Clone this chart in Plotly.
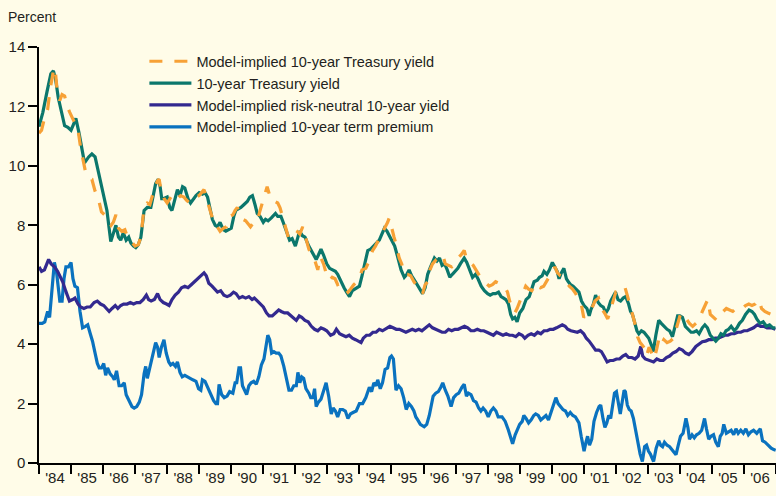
import plotly.graph_objects as go

# ---------------- data ----------------
t_treas = [1984.0,1984.12,1984.25,1984.37,1984.45,1984.52,1984.6,1984.7,1984.8,1984.9,1985.0,1985.08,1985.15,1985.25,1985.35,1985.42,1985.55,1985.65,1985.75,1985.85,1985.95,1986.05,1986.12,1986.24,1986.32,1986.4,1986.48,1986.55,1986.63,1986.72,1986.8,1986.87,1986.95,1987.02,1987.1,1987.18,1987.28,1987.38,1987.49,1987.57,1987.64,1987.72,1987.78,1987.83,1987.9,1988.0,1988.08,1988.15,1988.25,1988.32,1988.4,1988.48,1988.55,1988.65,1988.73,1988.82,1988.9,1989.0,1989.1,1989.18,1989.26,1989.35,1989.41,1989.5,1989.57,1989.65,1989.75,1989.83,1989.92,1990.0,1990.08,1990.14,1990.22,1990.3,1990.4,1990.5,1990.58,1990.66,1990.74,1990.81,1990.9,1991.0,1991.07,1991.15,1991.25,1991.38,1991.45,1991.55,1991.62,1991.7,1991.82,1991.9,1992.0,1992.08,1992.13,1992.22,1992.3,1992.42,1992.55,1992.65,1992.72,1992.8,1992.88,1992.98,1993.07,1993.15,1993.25,1993.32,1993.42,1993.52,1993.6,1993.69,1993.78,1993.9,1994.0,1994.08,1994.18,1994.26,1994.35,1994.44,1994.52,1994.62,1994.7,1994.78,1994.86,1994.93,1995.0,1995.1,1995.19,1995.3,1995.4,1995.48,1995.55,1995.63,1995.72,1995.8,1995.9,1995.97,1996.05,1996.13,1996.22,1996.34,1996.42,1996.5,1996.58,1996.66,1996.74,1996.82,1996.9,1997.0,1997.07,1997.15,1997.27,1997.35,1997.45,1997.53,1997.62,1997.7,1997.8,1997.9,1998.0,1998.08,1998.17,1998.25,1998.34,1998.42,1998.5,1998.57,1998.65,1998.72,1998.78,1998.85,1998.92,1999.0,1999.1,1999.2,1999.3,1999.39,1999.45,1999.55,1999.62,1999.7,1999.76,1999.85,1999.93,2000.02,2000.1,2000.17,2000.23,2000.3,2000.38,2000.46,2000.52,2000.59,2000.67,2000.75,2000.85,2000.93,2001.01,2001.1,2001.17,2001.22,2001.3,2001.37,2001.45,2001.53,2001.61,2001.69,2001.77,2001.84,2001.99,2002.07,2002.15,2002.23,2002.31,2002.4,2002.46,2002.52,2002.6,2002.66,2002.72,2002.8,2002.88,2002.96,2003.03,2003.1,2003.17,2003.25,2003.34,2003.42,2003.5,2003.6,2003.68,2003.77,2003.85,2003.93,2004.0,2004.08,2004.17,2004.25,2004.35,2004.43,2004.52,2004.6,2004.7,2004.78,2004.86,2004.95,2005.04,2005.12,2005.2,2005.28,2005.36,2005.44,2005.52,2005.6,2005.7,2005.78,2005.86,2005.95,2006.05,2006.16,2006.25,2006.33,2006.4,2006.5,2006.6,2006.7,2006.8,2006.9,2006.98]
v_treas = [11.32,11.8,12.5,13.1,13.2,12.9,12.3,11.8,11.35,11.3,11.2,11.4,11.6,11.1,10.5,10.1,10.3,10.4,10.3,9.8,9.35,8.9,8.5,7.45,7.7,8.0,7.6,7.5,7.75,7.5,7.6,7.4,7.3,7.25,7.35,7.6,8.5,8.6,8.6,9.0,9.4,9.55,9.3,8.9,8.9,8.95,8.6,8.5,8.9,9.2,9.0,9.3,9.25,8.9,8.75,8.9,9.0,9.1,9.05,9.1,8.95,8.5,8.2,8.0,7.95,8.1,7.85,7.8,7.85,7.9,8.3,8.5,8.55,8.6,8.7,8.8,8.95,9.0,8.7,8.4,8.3,8.1,8.2,8.15,8.25,8.4,8.3,8.3,8.1,7.85,7.5,7.55,7.3,7.6,7.8,7.65,7.6,7.3,7.05,6.85,7.0,7.2,7.0,6.7,6.55,6.5,6.45,6.35,6.1,5.9,5.75,5.6,5.8,5.9,5.95,6.3,6.8,7.15,7.2,7.3,7.4,7.5,7.7,7.9,7.8,7.65,7.55,7.3,6.95,6.5,6.25,6.35,6.5,6.3,6.15,6.0,5.85,5.7,5.9,6.35,6.6,6.9,6.8,6.9,6.65,6.7,6.5,6.25,6.35,6.45,6.55,6.7,6.9,6.75,6.5,6.25,6.35,6.2,5.95,5.8,5.7,5.65,5.7,5.7,5.75,5.6,5.55,5.5,5.35,5.0,4.85,4.9,4.75,5.05,5.2,5.5,5.6,5.95,6.1,6.15,6.25,6.3,6.45,6.35,6.5,6.75,6.6,6.45,6.2,6.4,6.55,6.2,6.1,6.0,5.95,5.85,5.75,5.45,5.3,5.2,4.95,5.15,5.35,5.65,5.4,5.3,5.25,5.05,5.2,5.45,5.75,5.5,5.45,5.55,5.6,5.35,5.1,5.0,4.7,4.45,4.35,4.45,4.4,4.3,4.2,4.0,3.75,4.3,4.8,4.7,4.6,4.5,4.45,4.25,4.6,4.95,4.95,4.9,4.6,4.5,4.4,4.4,4.45,4.35,4.55,4.65,4.55,4.3,4.2,4.1,4.2,4.35,4.3,4.45,4.5,4.6,4.45,4.55,4.7,4.8,5.0,5.15,5.1,5.0,4.85,4.7,4.75,4.6,4.65,4.55,4.55]

t_model = [1984.0,1984.08,1984.17,1984.27,1984.35,1984.45,1984.5,1984.57,1984.65,1984.72,1984.8,1984.88,1984.96,1985.05,1985.15,1985.22,1985.3,1985.38,1985.46,1985.55,1985.65,1985.75,1985.85,1985.95,1986.05,1986.15,1986.25,1986.32,1986.4,1986.48,1986.58,1986.68,1986.78,1986.88,1987.0,1987.1,1987.18,1987.28,1987.38,1987.46,1987.55,1987.62,1987.7,1987.75,1987.82,1987.9,1988.0,1988.08,1988.15,1988.25,1988.33,1988.42,1988.52,1988.6,1988.7,1988.8,1988.9,1989.0,1989.08,1989.15,1989.23,1989.3,1989.4,1989.48,1989.56,1989.65,1989.75,1989.85,1989.95,1990.05,1990.12,1990.19,1990.28,1990.36,1990.45,1990.52,1990.6,1990.7,1990.8,1990.9,1991.0,1991.07,1991.12,1991.2,1991.28,1991.36,1991.45,1991.52,1991.6,1991.7,1991.78,1991.87,1991.97,1992.05,1992.14,1992.23,1992.32,1992.42,1992.5,1992.6,1992.7,1992.78,1992.88,1992.97,1993.07,1993.15,1993.24,1993.32,1993.42,1993.52,1993.64,1993.72,1993.82,1993.92,1994.0,1994.08,1994.2,1994.3,1994.41,1994.5,1994.6,1994.7,1994.8,1994.88,1994.93,1995.0,1995.08,1995.16,1995.24,1995.32,1995.4,1995.5,1995.6,1995.7,1995.8,1995.88,1995.97,1996.05,1996.13,1996.2,1996.28,1996.4,1996.5,1996.6,1996.68,1996.78,1996.88,1996.98,1997.07,1997.17,1997.27,1997.36,1997.45,1997.55,1997.65,1997.75,1997.85,1997.95,1998.05,1998.15,1998.25,1998.35,1998.45,1998.55,1998.62,1998.7,1998.78,1998.85,1998.92,1999.0,1999.1,1999.19,1999.28,1999.38,1999.46,1999.55,1999.65,1999.75,1999.85,1999.94,2000.02,2000.1,2000.18,2000.27,2000.36,2000.45,2000.55,2000.65,2000.75,2000.85,2000.93,2001.0,2001.08,2001.15,2001.25,2001.35,2001.46,2001.55,2001.65,2001.75,2001.82,2001.92,2002.0,2002.1,2002.2,2002.29,2002.37,2002.45,2002.55,2002.62,2002.68,2002.76,2002.84,2002.9,2002.96,2003.04,2003.1,2003.2,2003.28,2003.35,2003.43,2003.5,2003.6,2003.7,2003.8,2003.9,2004.03,2004.12,2004.2,2004.3,2004.4,2004.5,2004.6,2004.7,2004.8,2004.87,2004.95,2005.05,2005.15,2005.25,2005.35,2005.45,2005.55,2005.65,2005.75,2005.85,2005.95,2006.05,2006.15,2006.25,2006.35,2006.46,2006.55,2006.65,2006.75,2006.85,2006.98]
v_model = [11.1,11.2,11.6,11.9,12.6,13.2,13.3,12.5,12.2,12.4,12.35,12.0,11.8,11.6,11.4,11.2,10.6,10.1,9.75,9.6,9.55,9.15,8.9,8.45,8.35,8.2,8.0,8.1,8.35,7.9,7.8,7.85,7.55,7.45,7.3,7.35,7.6,8.6,8.75,8.7,9.05,9.3,9.5,9.55,9.1,8.9,8.75,8.9,9.0,8.85,8.9,9.0,8.95,8.85,8.75,8.85,8.95,9.0,9.1,9.2,8.9,8.65,8.3,8.0,7.95,7.8,7.9,7.95,8.3,8.35,8.5,8.6,8.3,8.2,8.15,8.05,7.95,8.1,8.1,8.5,8.9,9.2,9.3,9.0,8.8,8.8,8.75,8.6,8.3,7.9,7.6,7.75,7.85,7.8,7.7,7.95,7.55,7.2,7.0,6.85,6.5,6.95,6.7,6.35,6.15,6.25,6.2,6.0,6.05,5.9,5.75,5.85,6.0,6.1,6.2,6.5,6.55,6.8,7.15,7.3,7.5,7.7,7.9,8.1,8.25,7.9,7.6,7.3,6.9,6.7,6.35,6.35,6.3,6.1,5.95,5.85,5.7,6.0,6.1,6.5,6.7,6.85,6.9,7.0,6.7,6.65,6.6,6.7,6.9,7.0,7.15,6.8,6.75,6.65,6.45,6.3,6.15,6.05,5.95,6.0,6.1,6.05,5.95,5.9,5.75,5.4,5.2,5.05,5.2,5.45,5.7,5.95,5.85,5.8,5.95,6.05,5.9,5.95,6.15,6.3,6.35,6.6,6.4,6.3,6.25,6.1,5.95,5.85,5.7,5.5,5.3,4.9,5.0,5.05,5.2,5.45,5.55,5.2,5.05,4.85,5.1,5.5,5.75,5.7,5.8,5.9,5.6,5.3,4.95,4.6,4.25,4.05,3.95,3.85,3.6,3.9,3.75,3.5,3.85,4.2,4.0,4.15,4.05,4.1,4.2,4.6,5.05,4.9,4.85,4.7,4.6,4.7,4.8,5.1,5.35,5.5,5.0,4.9,4.8,4.95,5.1,5.2,5.15,5.1,5.2,5.25,5.2,5.3,5.35,5.3,5.35,5.5,5.2,5.1,5.05,5.0,4.95]

t_neutral = [1984.0,1984.08,1984.17,1984.3,1984.38,1984.48,1984.58,1984.66,1984.74,1984.83,1984.95,1985.05,1985.12,1985.22,1985.3,1985.4,1985.5,1985.6,1985.72,1985.82,1985.92,1986.02,1986.1,1986.19,1986.28,1986.38,1986.46,1986.55,1986.64,1986.75,1986.85,1986.95,1987.05,1987.15,1987.25,1987.35,1987.42,1987.5,1987.6,1987.7,1987.78,1987.88,1987.98,1988.06,1988.15,1988.25,1988.35,1988.45,1988.55,1988.65,1988.75,1988.85,1988.95,1989.05,1989.15,1989.22,1989.3,1989.4,1989.5,1989.57,1989.67,1989.77,1989.87,1989.97,1990.07,1990.15,1990.25,1990.35,1990.45,1990.55,1990.65,1990.72,1990.82,1990.92,1991.0,1991.1,1991.18,1991.28,1991.38,1991.48,1991.56,1991.66,1991.76,1991.86,1991.95,1992.03,1992.12,1992.2,1992.3,1992.4,1992.5,1992.6,1992.7,1992.8,1992.9,1992.98,1993.1,1993.2,1993.28,1993.38,1993.48,1993.58,1993.68,1993.78,1993.88,1993.96,1994.05,1994.12,1994.22,1994.32,1994.42,1994.52,1994.62,1994.72,1994.85,1994.95,1995.05,1995.15,1995.25,1995.35,1995.45,1995.55,1995.65,1995.75,1995.85,1995.95,1996.08,1996.18,1996.28,1996.38,1996.48,1996.58,1996.68,1996.78,1996.88,1996.98,1997.08,1997.18,1997.28,1997.38,1997.48,1997.58,1997.68,1997.78,1997.88,1997.98,1998.08,1998.18,1998.28,1998.38,1998.48,1998.58,1998.68,1998.78,1998.88,1998.98,1999.08,1999.16,1999.26,1999.36,1999.46,1999.56,1999.66,1999.76,1999.86,1999.95,2000.05,2000.15,2000.25,2000.33,2000.42,2000.5,2000.6,2000.7,2000.8,2000.9,2001.0,2001.08,2001.17,2001.27,2001.37,2001.47,2001.55,2001.63,2001.73,2001.82,2001.92,2002.02,2002.12,2002.22,2002.31,2002.4,2002.5,2002.6,2002.7,2002.78,2002.84,2002.92,2002.98,2003.08,2003.18,2003.28,2003.38,2003.48,2003.58,2003.68,2003.78,2003.88,2003.98,2004.08,2004.18,2004.28,2004.38,2004.5,2004.6,2004.7,2004.8,2004.9,2005.0,2005.1,2005.2,2005.3,2005.4,2005.5,2005.6,2005.7,2005.8,2005.9,2006.0,2006.1,2006.2,2006.3,2006.42,2006.52,2006.62,2006.72,2006.85,2006.98]
v_neutral = [6.6,6.45,6.5,6.85,6.7,6.6,6.45,6.3,6.1,5.8,5.45,5.5,5.55,5.35,5.25,5.2,5.25,5.25,5.4,5.45,5.35,5.3,5.2,5.1,5.2,5.3,5.2,5.3,5.35,5.35,5.4,5.35,5.4,5.4,5.5,5.65,5.5,5.45,5.5,5.7,5.5,5.4,5.35,5.3,5.5,5.65,5.75,5.9,5.95,5.9,6.0,6.1,6.2,6.3,6.4,6.3,6.05,5.95,5.85,5.75,5.8,5.65,5.6,5.65,5.75,5.7,5.55,5.6,5.55,5.6,5.5,5.55,5.45,5.35,5.25,5.05,4.95,4.95,5.05,5.15,5.1,5.05,5.05,4.95,4.85,4.8,4.95,4.9,4.8,4.75,4.6,4.5,4.45,4.55,4.5,4.45,4.3,4.35,4.5,4.35,4.3,4.25,4.3,4.2,4.15,4.1,4.05,4.2,4.3,4.3,4.4,4.4,4.5,4.45,4.55,4.6,4.55,4.5,4.5,4.45,4.4,4.45,4.5,4.45,4.5,4.45,4.55,4.65,4.55,4.5,4.45,4.4,4.4,4.5,4.45,4.5,4.5,4.55,4.6,4.55,4.45,4.45,4.5,4.45,4.45,4.4,4.35,4.3,4.4,4.35,4.3,4.35,4.3,4.3,4.25,4.35,4.3,4.2,4.3,4.35,4.3,4.4,4.35,4.45,4.45,4.5,4.5,4.55,4.6,4.65,4.6,4.5,4.45,4.42,4.4,4.45,4.35,4.2,4.1,3.95,3.8,3.8,3.75,3.6,3.4,3.45,3.45,3.5,3.5,3.6,3.65,3.55,3.55,3.5,3.6,3.92,3.6,3.5,3.48,3.45,3.4,3.5,3.45,3.45,3.55,3.6,3.7,3.75,3.85,3.8,3.7,3.65,3.75,3.92,4.0,4.08,4.1,4.15,4.15,4.2,4.2,4.25,4.3,4.3,4.35,4.35,4.4,4.4,4.45,4.45,4.5,4.55,4.65,4.6,4.6,4.55,4.55,4.5]

t_premium = [1984.0,1984.1,1984.18,1984.27,1984.33,1984.4,1984.48,1984.55,1984.6,1984.65,1984.72,1984.78,1984.84,1984.92,1985.0,1985.06,1985.12,1985.2,1985.28,1985.36,1985.45,1985.52,1985.6,1985.67,1985.75,1985.82,1985.88,1985.95,1986.02,1986.08,1986.14,1986.22,1986.3,1986.35,1986.42,1986.5,1986.58,1986.66,1986.72,1986.8,1986.9,1986.97,1987.05,1987.13,1987.2,1987.28,1987.33,1987.38,1987.46,1987.55,1987.64,1987.7,1987.75,1987.82,1987.9,1987.97,1988.05,1988.11,1988.18,1988.26,1988.32,1988.4,1988.47,1988.55,1988.62,1988.7,1988.8,1988.9,1988.98,1989.05,1989.1,1989.18,1989.28,1989.36,1989.45,1989.52,1989.57,1989.62,1989.7,1989.78,1989.87,1989.95,1990.05,1990.12,1990.17,1990.24,1990.29,1990.35,1990.42,1990.48,1990.55,1990.62,1990.7,1990.78,1990.86,1990.94,1991.02,1991.09,1991.14,1991.2,1991.26,1991.33,1991.4,1991.48,1991.55,1991.64,1991.72,1991.8,1991.88,1991.95,1992.03,1992.08,1992.14,1992.2,1992.26,1992.33,1992.42,1992.48,1992.55,1992.6,1992.65,1992.72,1992.8,1992.9,1992.96,1993.04,1993.12,1993.18,1993.25,1993.32,1993.4,1993.48,1993.56,1993.64,1993.72,1993.8,1993.9,1994.0,1994.1,1994.2,1994.31,1994.38,1994.45,1994.52,1994.57,1994.65,1994.72,1994.8,1994.88,1994.95,1995.0,1995.06,1995.14,1995.22,1995.3,1995.38,1995.46,1995.54,1995.62,1995.7,1995.76,1995.82,1995.9,1996.02,1996.1,1996.18,1996.25,1996.3,1996.38,1996.46,1996.54,1996.6,1996.68,1996.76,1996.86,1996.94,1997.02,1997.1,1997.2,1997.27,1997.34,1997.4,1997.48,1997.56,1997.64,1997.72,1997.79,1997.86,1997.94,1998.02,1998.1,1998.18,1998.26,1998.33,1998.45,1998.55,1998.65,1998.72,1998.78,1998.86,1998.93,1999.0,1999.08,1999.13,1999.2,1999.28,1999.36,1999.44,1999.5,1999.58,1999.66,1999.75,1999.82,1999.9,1999.97,2000.05,2000.13,2000.2,2000.27,2000.35,2000.43,2000.5,2000.58,2000.66,2000.74,2000.85,2000.92,2001.01,2001.07,2001.12,2001.18,2001.25,2001.32,2001.4,2001.48,2001.53,2001.6,2001.66,2001.72,2001.78,2001.84,2001.9,2001.96,2002.02,2002.08,2002.14,2002.2,2002.26,2002.3,2002.36,2002.42,2002.48,2002.55,2002.62,2002.7,2002.76,2002.83,2002.9,2002.96,2003.02,2003.08,2003.14,2003.18,2003.26,2003.34,2003.4,2003.46,2003.52,2003.6,2003.68,2003.76,2003.82,2003.88,2003.95,2004.02,2004.1,2004.19,2004.25,2004.3,2004.38,2004.45,2004.52,2004.6,2004.68,2004.77,2004.83,2004.9,2004.97,2005.05,2005.12,2005.2,2005.26,2005.32,2005.37,2005.45,2005.52,2005.6,2005.68,2005.75,2005.82,2005.9,2005.98,2006.06,2006.14,2006.22,2006.3,2006.4,2006.51,2006.58,2006.66,2006.75,2006.85,2006.93,2006.99]
v_premium = [4.7,4.7,4.75,5.1,4.9,5.8,6.75,6.4,5.8,5.45,5.45,6.2,6.6,6.6,6.75,6.2,5.95,5.9,5.1,4.55,4.6,4.65,4.35,4.1,3.7,3.35,3.2,3.2,3.35,2.95,3.2,3.0,2.9,2.8,3.1,2.6,2.6,2.7,2.3,2.1,1.9,1.85,1.9,2.05,2.3,3.0,3.25,2.85,3.2,3.7,4.05,3.9,3.55,3.9,4.15,3.7,3.4,3.3,3.35,3.25,3.4,3.05,2.9,2.95,2.9,2.85,2.8,2.75,2.5,2.45,2.8,2.75,2.5,2.35,2.1,2.0,2.0,2.65,2.3,2.2,2.25,2.4,2.35,2.7,2.7,3.2,3.2,2.6,2.4,2.3,2.6,2.7,2.75,2.65,2.9,3.3,3.5,4.0,4.3,4.15,3.7,3.75,3.7,3.7,3.6,3.25,2.9,2.45,2.45,2.6,2.6,3.05,2.7,2.9,2.85,2.5,2.35,2.2,2.2,2.5,1.9,2.05,2.15,2.5,2.7,2.25,1.65,1.85,1.75,1.55,1.8,1.8,1.75,1.5,1.65,1.7,1.75,2.0,2.0,2.2,2.55,2.4,2.7,2.6,2.8,2.5,2.7,3.15,3.2,3.55,3.6,3.5,2.45,2.6,2.5,2.2,1.8,2.0,1.9,1.75,1.55,1.45,1.3,1.22,1.3,1.6,2.0,2.25,2.35,2.4,2.55,2.7,2.45,2.25,1.9,2.2,2.3,2.35,2.55,2.65,2.25,2.35,2.3,2.1,2.05,1.85,1.75,1.85,1.75,1.55,1.75,1.85,1.75,1.55,1.55,1.4,1.1,0.85,0.65,0.95,1.1,1.3,1.4,1.6,1.5,1.35,1.45,1.6,1.65,1.6,1.45,1.55,1.6,1.45,1.7,1.95,2.2,2.0,1.9,1.8,1.75,1.6,1.7,1.6,1.55,1.35,0.9,0.4,0.7,0.9,0.6,0.8,1.4,1.7,1.9,1.95,1.5,1.2,1.35,1.6,1.5,2.0,2.35,2.4,2.0,1.65,2.05,2.45,2.4,1.95,1.8,1.75,1.5,1.1,0.6,0.3,0.05,0.55,0.6,0.4,0.3,0.15,0.05,0.5,0.75,0.6,0.55,0.7,0.6,0.55,0.45,0.35,0.28,0.6,0.9,1.0,1.5,1.2,0.8,0.95,0.85,0.95,1.0,1.1,1.5,1.15,0.8,0.9,0.95,0.7,0.55,0.9,1.0,1.3,1.0,1.05,1.1,0.95,1.15,1.0,1.1,1.0,1.15,0.95,1.05,1.1,1.0,1.15,0.75,0.7,0.6,0.5,0.45,0.43]

years = list(range(1984, 2007))
year_labels = ["'" + str(y)[2:] for y in years]
y_ticks = [0, 2, 4, 6, 8, 10, 12, 14]

names = ["Model-implied 10-year term premium",
         "Model-implied risk-neutral 10-year yield",
         "10-year Treasury yield",
         "Model-implied 10-year Treasury yield"]

# ---------------- styling ----------------
BG = "#FFFCE8"
C_ORANGE = "#F7A136"
C_TEAL = "#0B776C"
C_PURPLE = "#33298F"
C_BLUE = "#0A72BF"
TXT = "#231F20"
FONT = "Liberation Sans Narrow, Arial Narrow, Liberation Sans, Arial, sans-serif"

fig = go.Figure()
fig.add_trace(go.Scatter(x=t_premium, y=v_premium, mode="lines", name=names[0],
                         line=dict(color=C_BLUE, width=3.2)))
fig.add_trace(go.Scatter(x=t_neutral, y=v_neutral, mode="lines", name=names[1],
                         line=dict(color=C_PURPLE, width=3.2)))
fig.add_trace(go.Scatter(x=t_treas, y=v_treas, mode="lines", name=names[2],
                         line=dict(color=C_TEAL, width=3.2)))
fig.add_trace(go.Scatter(x=t_model, y=v_model, mode="lines", name=names[3],
                         line=dict(color=C_ORANGE, width=3.2, dash="13px,12px")))

fig.update_layout(
    width=776, height=496,
    margin=dict(l=39, r=0, t=47, b=33, autoexpand=False),
    paper_bgcolor=BG, plot_bgcolor=BG,
    font=dict(family=FONT, size=15, color=TXT),
    showlegend=True,
    legend=dict(x=0.143, y=1.004, xanchor="left", yanchor="top",
                traceorder="reversed", bgcolor="rgba(0,0,0,0)",
                font=dict(size=14.5, color=TXT), itemwidth=42,
                tracegroupgap=0),
    xaxis=dict(range=[1984, 2007], showgrid=False, zeroline=False,
               automargin=False,
               showline=True, linecolor="#000000", linewidth=1.5,
               tickmode="array", tickvals=[y + 0.5 for y in years],
               ticktext=year_labels, ticks="",
               tickfont=dict(size=15, color=TXT),
               minor=dict(tickmode="array", tickvals=years + [2007],
                          ticks="outside", ticklen=9, tickwidth=1.5,
                          tickcolor="#000000", showgrid=False)),
    yaxis=dict(range=[0, 14], showgrid=False, zeroline=False,
               automargin=False,
               showline=True, linecolor="#000000", linewidth=1.5,
               tickmode="array", tickvals=y_ticks,
               ticks="outside", ticklen=9, tickwidth=1.5, tickcolor="#000000",
               tickfont=dict(size=15, color=TXT)),
    annotations=[dict(text="Percent", xref="paper", yref="paper",
                      x=(6 - 39) / 737, y=(463 - 17) / 416,
                      xanchor="left", yanchor="middle", showarrow=False,
                      font=dict(size=14, color=TXT))],
)

fig.write_html(
    "out.html",
    config={"displayModeBar": False},
    post_script="document.body.style.margin='0px';document.body.style.overflow='hidden';"
)
